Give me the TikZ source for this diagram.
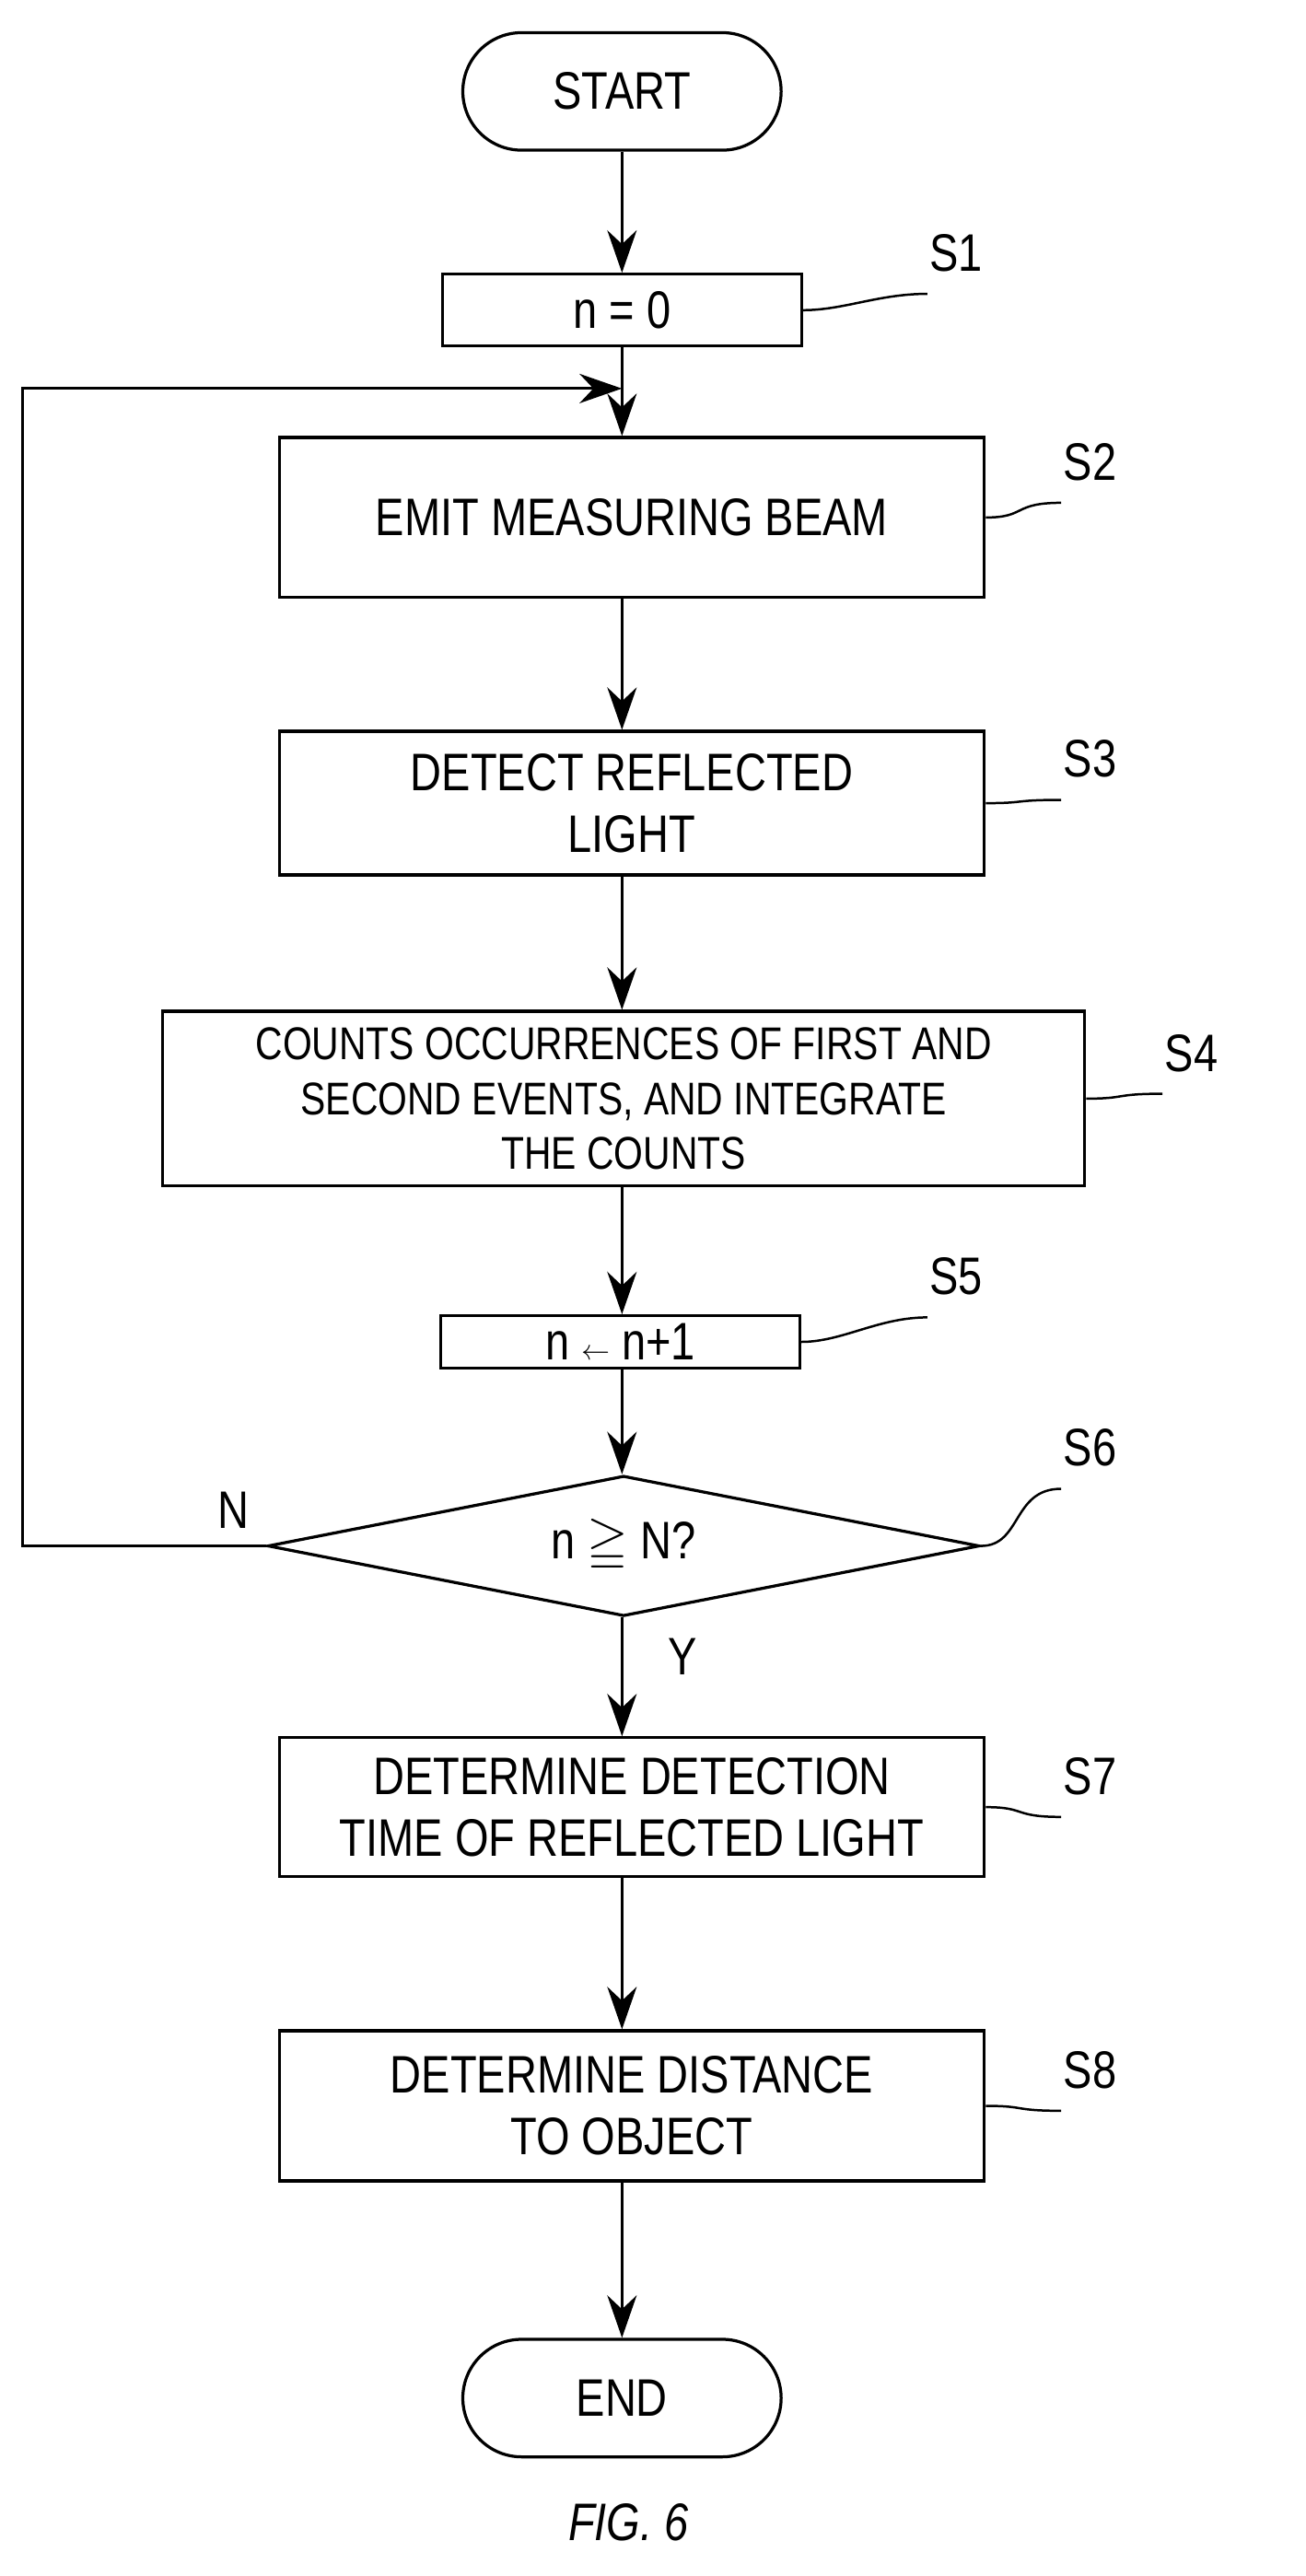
\documentclass[tikz,border=0pt]{standalone}
\usepackage{amssymb}
\usepackage{fontspec}
\setmainfont{Liberation Sans}[FakeStretch=0.82]
\usetikzlibrary{shapes.geometric, arrows.meta, positioning}

\begin{document}
\begin{tikzpicture}[x=0.05cm, y=-0.05cm, font=\fontsize{46}{54}\selectfont]

% --- Define Styles ---
\tikzstyle{terminal} = [rectangle, rounded corners=1.8cm, minimum width=9.75cm, minimum height=3.6cm, draw=black, line width=2.6pt]
\tikzstyle{process} = [rectangle, minimum width=21.6cm, minimum height=4.6cm, text centered, align=center, draw=black, line width=2.6pt]
\tikzstyle{small} = [rectangle, minimum width=11cm, minimum height=2.2cm, text centered, draw=black, line width=2.6pt]
\tikzstyle{decision} = [diamond, aspect=5.1, minimum width=21.8cm, minimum height=4.3cm, inner sep=0pt, draw=black, line width=2.6pt]
\tikzstyle{arrow} = [line width=2.6pt, -{Stealth[length=1.3cm, width=0.9cm]}]
\tikzstyle{lead} = [line width=2pt]
\tikzstyle{steplabel} = [anchor=south west, inner sep=2pt]

\useasboundingbox (0,0) rectangle (800,1578);

% --- Nodes ---
\node (start) [terminal] at (381,56) {START};
\node (s1) [small] at (381,190) {n = 0};
\node (s2) [process, minimum height=4.9cm] at (387,317) {EMIT MEASURING BEAM};
\node (s3) [process, minimum height=4.4cm] at (387,492) {DETECT REFLECTED\\LIGHT};
\node (s4) [process, minimum width=28.25cm, minimum height=5.35cm, font=\fontsize{40}{48}\selectfont] at (382,673) {COUNTS OCCURRENCES OF FIRST AND\\SECOND EVENTS, AND INTEGRATE\\THE COUNTS};
\node (s5) [small, minimum height=1.6cm] at (380,822) {n $\leftarrow$ n+1};
\node (s6) [decision] at (382,947) {n $\geqq$ N?};
\node (s7) [process, minimum height=4.25cm] at (387,1107) {DETERMINE DETECTION\\TIME OF REFLECTED LIGHT};
\node (s8) [process] at (387,1290) {DETERMINE DISTANCE\\TO OBJECT};
\node (end) [terminal] at (381,1469) {END};
\node (fig) at (385,1545) {\itshape FIG. 6};

\coordinate (loopin) at (381,238);
\coordinate (loopa) at (14,947);
\coordinate (loopb) at (14,238);
\node (no) at (143,925) {N};
\node (yes) at (418,1015) {Y};

% --- Step labels ---
\node (l1) [steplabel] at (568,168) {S1};
\node (l2) [steplabel] at (650,296) {S2};
\node (l3) [steplabel] at (650,478) {S3};
\node (l4) [steplabel] at (712,658) {S4};
\node (l5) [steplabel] at (568,795) {S5};
\node (l6) [steplabel] at (650,900) {S6};
\node (l7) [steplabel] at (650,1101) {S7};
\node (l8) [steplabel] at (650,1281) {S8};

\foreach \b/\l in {s1/l1, s2/l2, s3/l3, s4/l4, s5/l5, s7/l7, s8/l8}
  \draw [lead] (\b.east) .. controls +(25,0) and +(-30,0) .. ([yshift=-0.6cm]\l.south west);
\draw [lead] (s6.east) .. controls +(25,0) and +(-30,0) .. ([yshift=-0.6cm]l6.south west);

% --- Arrows ---
\draw [arrow] (start) -- (s1);
\draw [arrow] (s1) -- (loopin) -- (s2.north -| loopin);
\draw [arrow] (s2.south -| loopin) -- (s3.north -| loopin);
\draw [arrow] (s3.south -| loopin) -- (s4.north -| loopin);
\draw [arrow] (s4.south -| loopin) -- (s5.north -| loopin);
\draw [arrow] (s5.south -| loopin) -- (s6.north -| loopin);
\draw [arrow] (s6.south -| loopin) -- (s7.north -| loopin);
\draw [arrow] (s7.south -| loopin) -- (s8.north -| loopin);
\draw [arrow] (s8.south -| loopin) -- (end);
\draw [arrow] (s6.west) -- (loopa) -- (loopb) -- (loopin);

\end{tikzpicture}
\end{document}
